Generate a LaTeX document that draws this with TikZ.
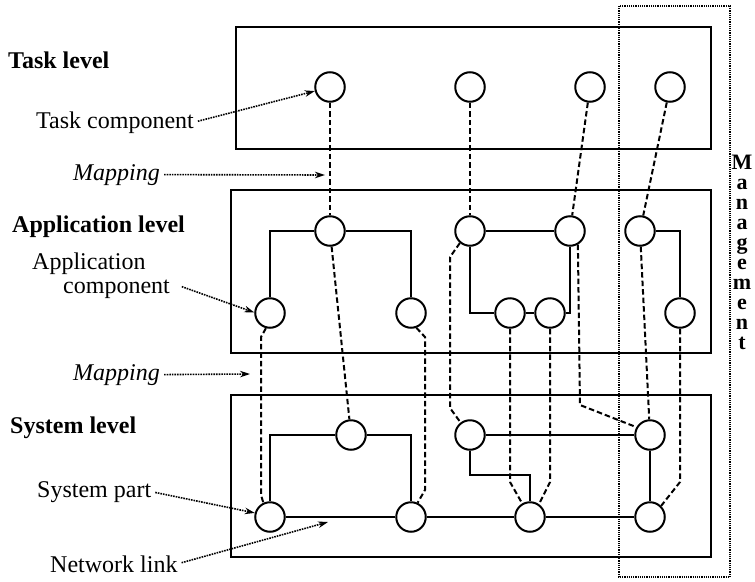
\documentclass[tikz,border=0pt]{standalone}
\usepackage{fontspec}
\setmainfont{Liberation Serif}
\usetikzlibrary{arrows.meta,positioning,calc}

\begin{document}
\begin{tikzpicture}[
    x=1pt, y=-1pt,
    part/.style={draw, circle, line width=2pt, minimum size=29.5pt, inner sep=0pt},
    level/.style={draw, line width=2.2pt},
    link/.style={line width=2pt},
    map/.style={line width=2pt, dash pattern=on 5.5pt off 3pt},
    mgmt/.style={draw, line width=1.2pt, densely dotted},
    note/.style={-{Stealth[length=10pt,width=6.5pt]}, line width=1.6pt, densely dotted, shorten <=4pt},
    lbl/.style={anchor=base west, inner sep=0pt, font=\fontsize{24}{24}\selectfont},
    head/.style={lbl, font=\fontsize{24}{24}\selectfont\bfseries},
    mapl/.style={lbl, font=\fontsize{24}{24}\selectfont\itshape}
  ]
    \useasboundingbox (0,0) rectangle (755,581);

    \draw[level] (236,27) rectangle (711,149);
    \draw[level] (231,190) rectangle (711,353);
    \draw[level] (231,395) rectangle (711,557);
    \draw[mgmt] (619,6) rectangle (730,577);
    \node[anchor=north, align=center, inner sep=0pt, font=\fontsize{22}{20}\selectfont\bfseries]
      (mg) at (742,155) {M\\a\\n\\a\\g\\e\\m\\e\\n\\t};

    \node[part] (t1) at (330,87) {};
    \node[part] (t2) at (470,87) {};
    \node[part] (t3) at (590,87) {};
    \node[part] (t4) at (670,87) {};

    \node[part] (a1) at (330,231) {};
    \node[part] (a2) at (470,231) {};
    \node[part] (a3) at (570,231) {};
    \node[part] (a4) at (640,231) {};
    \node[part] (a5) at (270,313) {};
    \node[part] (a6) at (411,313) {};
    \node[part] (a7) at (510,313) {};
    \node[part] (a8) at (550,313) {};
    \node[part] (a9) at (680,313) {};

    \node[part] (s1) at (270,517) {};
    \node[part] (s2) at (351,435) {};
    \node[part] (s3) at (411,517) {};
    \node[part] (s4) at (470,435) {};
    \node[part] (s5) at (530,517) {};
    \node[part] (s6) at (650,435) {};
    \node[part] (s7) at (650,517) {};
    \coordinate (sk) at (500,475);

    \draw[link] (a1) -| (a5);
    \draw[link] (a1) -| (a6);
    \draw[link] (a2) -- (a3);
    \draw[link] (a2) |- (a7);
    \draw[link] (a7) -- (a8);
    \draw[link] (a3) |- (a8);
    \draw[link] (a4) -| (a9);

    \draw[link] (s1) -- (s3) -- (s5) -- (s7);
    \draw[link] (s2) -| (s1);
    \draw[link] (s2) -| (s3);
    \draw[link] (s4) -- (s6) -- (s7);
    \draw[link] (s4) |- (sk) -| (s5);

    \draw[map] (t1) -- (a1);
    \draw[map] (t2) -- (a2);
    \draw[map] (t3) -- (a3);
    \draw[map] (t4) -- (a4);

    \draw[map] (a1) -- (s2);
    \draw[map] (a5.-105) -- (261,337) -- (261,495) -- (s1.115);
    \draw[map] (a6.-70) -- (425,337) -- (425,490) -- (s3.65);
    \draw[map] (a2.-130) -- (450,257) -- (450,408) -- (s4.127);
    \draw[map] (a7.south) -- (510,482) -- (s5.120);
    \draw[map] (a8.south) -- (550,482) -- (s5.55);
    \draw[map] (a3.-60) -- (580,405) -- (s6.150);
    \draw[map] (a4) -- (s6);
    \draw[map] (a9.south) -- (680,482) -- (s7.45);

    \node[head] (tl) at (8,68) {Task level};
    \node[lbl] (tc) at (36,128) {Task component};
    \node[mapl] (m1) at (73,180) {Mapping};
    \node[head] (al) at (12,232) {Application level};
    \node[lbl, align=left] (ac) at (32,293) {Application\\\hspace*{31pt}component};
    \node[mapl] (m2) at (73,380) {Mapping};
    \node[head] (sl) at (10,433) {System level};
    \node[lbl] (sp) at (37,497) {System part};
    \node[lbl] (nl) at (50,572) {Network link};

    \coordinate (mp1) at (325,175);
    \coordinate (mp2) at (250,374);
    \coordinate (nk) at (328,522);
    \draw[note] (tc.east) -- (t1.195);
    \draw[note] (m1.east) -- (mp1);
    \draw[note] ($(ac.south east)+(8,-13)$) -- (a5.178);
    \draw[note] (m2.east) -- (mp2);
    \draw[note] (sp.east) -- (s1.165);
    \draw[note] (nl.east) -- (nk);
\end{tikzpicture}
\end{document}
